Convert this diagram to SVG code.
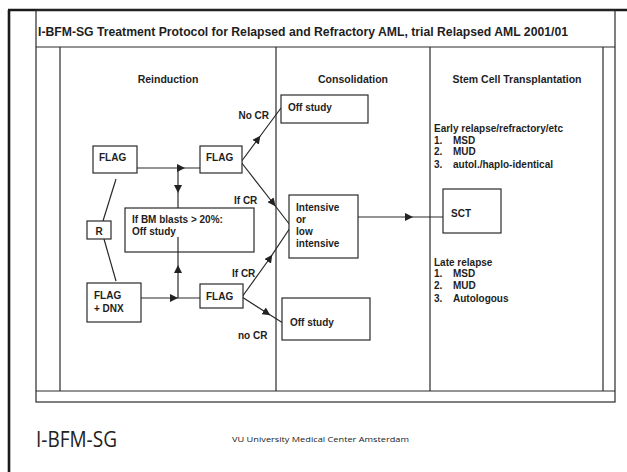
<svg xmlns="http://www.w3.org/2000/svg" width="627" height="472" viewBox="0 0 627 472">
<style>
.frame{fill:none;stroke:#2a2a2a;stroke-width:1.2}
.thick{fill:none;stroke:#1a1a1a;stroke-width:2.6}
.box{fill:#fff;stroke:#2a2a2a;stroke-width:1.2}
.t{font-family:"Liberation Sans",Arial,sans-serif;font-size:10px;font-weight:bold;fill:#1e1e1e}
.h{font-family:"Liberation Sans",Arial,sans-serif;font-size:10.5px;font-weight:bold;fill:#1e1e1e}
.title{font-family:"Liberation Sans",Arial,sans-serif;font-size:12px;font-weight:bold;fill:#1e1e1e}
.c{fill:none;stroke:#2a2a2a;stroke-width:1.2;marker-mid:url(#ah)}
.cn{fill:none;stroke:#2a2a2a;stroke-width:1.2}
.foot{font-family:"Open Sans","Noto Sans",sans-serif;fill:#222}
</style>
<defs>
<marker id="ah" viewBox="0 0 10 10" refX="5" refY="5" markerWidth="8" markerHeight="8" markerUnits="userSpaceOnUse" orient="auto">
<path d="M0,0 L10,5 L0,10 z" fill="#222"/>
</marker>
</defs>
<rect width="627" height="472" fill="#fff"/>
<g id="frame">
<line class="thick" x1="8" y1="10" x2="627" y2="10"/>
<line class="thick" x1="9" y1="10" x2="9" y2="472"/>
<rect class="frame" x="36" y="10" width="579" height="392"/>
<line class="frame" x1="36" y1="47" x2="615" y2="47"/>
<line class="frame" x1="36" y1="391" x2="615" y2="391"/>
<line class="frame" x1="60" y1="47" x2="60" y2="391"/>
<line class="frame" x1="276" y1="47" x2="276" y2="391"/>
<line class="frame" x1="430" y1="47" x2="430" y2="391"/>
<line class="frame" x1="603" y1="47" x2="603" y2="391"/>
<text class="title" x="38" y="36" textLength="530" lengthAdjust="spacingAndGlyphs">I-BFM-SG Treatment Protocol for Relapsed and Refractory AML, trial Relapsed AML 2001/01</text>
<text class="h" x="168" y="83" text-anchor="middle">Reinduction</text>
<text class="h" x="353" y="83" text-anchor="middle">Consolidation</text>
<text class="h" x="517" y="83" text-anchor="middle">Stem Cell Transplantation</text>
</g>
<g id="connectors">
<path class="c" d="M137,168 L181,168 L200,168"/>
<path class="c" d="M178,168 L178,189 L178,208"/>
<path class="cn" d="M116,179 L103,221"/>
<path class="cn" d="M104,239 L116,281"/>
<path class="c" d="M141,298 L174,298 L200,298"/>
<path class="c" d="M178,298 L178,269 L178,237"/>
<path class="c" d="M241,162 L258,139 L281,108"/>
<path class="c" d="M241,162 L273,203 L290,225"/>
<path class="c" d="M242,297 L270,258 L290,228"/>
<path class="c" d="M242,297 L267,313 L283,323"/>
<path class="c" d="M358,217 L409,217 L443,217"/>
</g>
<g id="flag1">
<rect class="box" x="93" y="146" width="44" height="27"/>
<text class="t" x="99" y="161">FLAG</text>
</g>
<g id="flag2">
<rect class="box" x="200" y="146" width="42" height="27"/>
<text class="t" x="206" y="161">FLAG</text>
</g>
<g id="r">
<rect class="box" x="87" y="221" width="24" height="18"/>
<text class="t" x="99" y="235" text-anchor="middle">R</text>
</g>
<g id="bm">
<rect class="box" x="125" y="208" width="129" height="44"/>
<text class="t" x="132" y="223">If BM blasts &gt; 20%:</text>
<text class="t" x="132" y="235">Off study</text>
</g>
<line class="cn" x1="178" y1="252" x2="178" y2="237"/>
<g id="flagdnx">
<rect class="box" x="87" y="283" width="54" height="39"/>
<text class="t" x="94" y="299">FLAG</text>
<text class="t" x="94" y="312">+ DNX</text>
</g>
<g id="flag3">
<rect class="box" x="200" y="284" width="43" height="24"/>
<text class="t" x="206" y="300">FLAG</text>
</g>
<g id="labels">
<text class="t" x="269" y="119" text-anchor="end">No CR</text>
<text class="t" x="234" y="204">If CR</text>
<text class="t" x="232" y="277">If CR</text>
<text class="t" x="238" y="339">no CR</text>
</g>
<g id="offstudy1">
<rect class="box" x="281" y="95" width="87" height="28"/>
<text class="t" x="288" y="111">Off study</text>
</g>
<g id="intensive">
<rect class="box" x="289" y="195" width="69" height="63"/>
<text class="t" x="296" y="211">Intensive</text>
<text class="t" x="296" y="223">or</text>
<text class="t" x="296" y="235">low</text>
<text class="t" x="296" y="247">intensive</text>
</g>
<g id="offstudy2">
<rect class="box" x="282" y="298" width="88" height="42"/>
<text class="t" x="290" y="326">Off study</text>
</g>
<g id="sct">
<rect class="box" x="443" y="189" width="58" height="44"/>
<text class="t" x="451" y="217">SCT</text>
</g>
<g id="early">
<text class="t" x="434" y="132">Early relapse/refractory/etc</text>
<text class="t" x="434" y="144">1.</text><text class="t" x="453" y="144">MSD</text>
<text class="t" x="434" y="155">2.</text><text class="t" x="453" y="155">MUD</text>
<text class="t" x="434" y="168">3.</text><text class="t" x="453" y="168">autol./haplo-identical</text>
</g>
<g id="late">
<text class="t" x="434" y="266">Late relapse</text>
<text class="t" x="434" y="277">1.</text><text class="t" x="453" y="277">MSD</text>
<text class="t" x="434" y="289">2.</text><text class="t" x="453" y="289">MUD</text>
<text class="t" x="434" y="302">3.</text><text class="t" x="453" y="302">Autologous</text>
</g>
<g id="footer">
<text class="foot" x="36" y="447" font-size="21" textLength="81" lengthAdjust="spacingAndGlyphs">I-BFM-SG</text>
<text class="foot" x="232" y="442" font-size="7.5" textLength="177" lengthAdjust="spacingAndGlyphs">VU University Medical Center Amsterdam</text>
</g>
</svg>
